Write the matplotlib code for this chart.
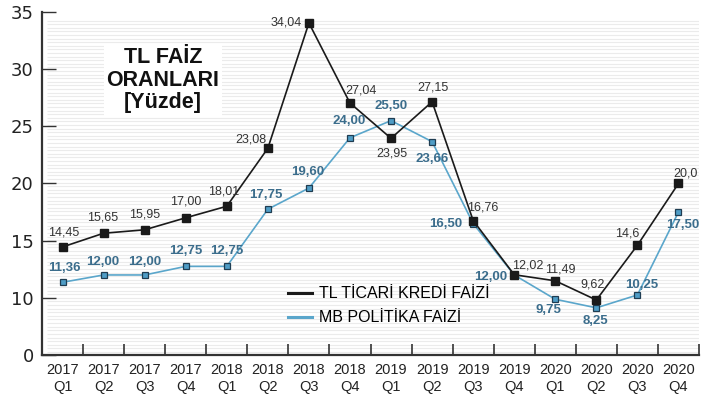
import numpy as np
import matplotlib
matplotlib.use("Agg")
import matplotlib.pyplot as plt
from matplotlib import font_manager as fm
from matplotlib.lines import Line2D

# ---------------- data ----------------
years = ["2017", "2017", "2017", "2017", "2018", "2018", "2018", "2018",
         "2019", "2019", "2019", "2019", "2020", "2020", "2020", "2020"]
quarters = ["Q1", "Q2", "Q3", "Q4", "Q1", "Q2", "Q3", "Q4",
            "Q1", "Q2", "Q3", "Q4", "Q1", "Q2", "Q3", "Q4"]
ticari = [14.45, 15.65, 15.95, 17.00, 18.01, 23.08, 34.04, 27.04,
          23.95, 27.15, 16.76, 12.02, 11.49, 9.62, 14.6, 20.0]
ticari_labels = ["14,45", "15,65", "15,95", "17,00", "18,01", "23,08", "34,04", "27,04",
                 "23,95", "27,15", "16,76", "12,02", "11,49", "9,62", "14,6", "20,0"]
politika = [11.36, 12.00, 12.00, 12.75, 12.75, 17.75, 19.60, 24.00,
            25.50, 23.66, 16.50, 12.00, 9.75, 8.25, 10.25, 17.50]
politika_labels = ["11,36", "12,00", "12,00", "12,75", "12,75", "17,75", "19,60", "24,00",
                   "25,50", "23,66", "16,50", "12,00", "9,75", "8,25", "10,25", "17,50"]
yticks = [0, 10, 15, 20, 25, 30, 35]

# label offsets (pixels) for each point
ticari_off = [(1, 14), (-1, 16), (0, 15), (0, 16), (-3, 15), (-17, 9), (-23, 0), (11, 13),
              (1, -15), (1, 14), (10, 13), (14, 9), (5, 11), (-4, 16), (-10, 12), (7, 10)]
politika_off = [(2, 14), (-1, 13), (0, 13), (0, 15), (0, 15), (-2, 14), (-1, 16), (-1, 17),
                (0, 15), (0, -17), (-27, 0), (-24, -2), (-7, -11), (-1, -13), (4, 10), (4, -13)]

# ---------------- fonts ----------------
names = {f.name for f in fm.fontManager.ttflist}
narrow = "Liberation Sans Narrow" if "Liberation Sans Narrow" in names else "Liberation Sans"
plt.rcParams["font.family"] = [narrow, "DejaVu Sans"]

BLACK = "#1a1a1a"
BLUE_LINE = "#5aa6cb"
BLUE_FACE = "#4f9dc6"
BLUE_EDGE = "#1f3d52"
BLUE_TEXT = "#3b6d8c"

fig = plt.figure(figsize=(7.18, 4.0), dpi=100)
ax = fig.add_axes([42 / 718, 45 / 400, (699 - 42) / 718, (355 - 12) / 400])

# broken y scale: 0-10 compressed to half
def fwd(y):
    y = np.asarray(y, dtype=float)
    return np.where(y >= 10, y - 5, y / 2)

def inv(p):
    p = np.asarray(p, dtype=float)
    return np.where(p >= 5, p + 5, p * 2)

ax.set_yscale("function", functions=(fwd, inv))

x = np.arange(len(ticari))

# striped background
stripe_y = np.arange(0.009, 0.983, 0.0105)
ax.hlines(stripe_y, 0.008, 1.0, transform=ax.transAxes, color="#ebebeb",
          linewidth=0.8, zorder=0)

ax.plot(x, ticari, color=BLACK, lw=1.2, marker="s", ms=5.5, mfc=BLACK, mec=BLACK, zorder=4)
ax.plot(x, politika, color=BLUE_LINE, lw=1.2, marker="s", ms=5.0, mfc=BLUE_FACE,
        mec=BLUE_EDGE, mew=0.9, zorder=3)

for xi, v, lab, (dx, dy) in zip(x, ticari, ticari_labels, ticari_off):
    ax.annotate(lab, (xi, v), xytext=(dx, dy), textcoords="offset pixels",
                ha="center", va="center", fontsize=9, color="#333333", zorder=6)
for xi, v, lab, (dx, dy) in zip(x, politika, politika_labels, politika_off):
    ax.annotate(lab, (xi, v), xytext=(dx, dy), textcoords="offset pixels",
                ha="center", va="center", fontsize=9.5, fontweight="bold",
                color=BLUE_TEXT, zorder=6)

ax.set_xlim(-0.5, 15.5)
ax.set_ylim(0, 35)

ax.set_yticks(yticks)
ax.set_yticklabels([str(t) for t in yticks], fontsize=13, color="#222222",
                   family=["DejaVu Sans"])
ax.yaxis.set_minor_locator(matplotlib.ticker.NullLocator())
ax.tick_params(axis="y", direction="in", length=10, width=1.0, color="#333333", pad=6)

ax.set_xticks(x)
ax.set_xticklabels([f"{a}\n{b}" for a, b in zip(years, quarters)], fontsize=10.5,
                   color="#222222", linespacing=1.25)
ax.set_xticks(np.arange(0.5, 16, 1.0), minor=True)
ax.tick_params(axis="x", which="major", length=0, pad=6)
ax.tick_params(axis="x", which="minor", direction="in", length=8, width=1.2, color="#333333")

for s in ["top", "right"]:
    ax.spines[s].set_visible(False)
for s in ["left", "bottom"]:
    ax.spines[s].set_color("#333333")
    ax.spines[s].set_linewidth(1.6)
ax.set_facecolor("white")

# title box
ax.text(163 / 718, 1 - 80 / 400, "TL FAİZ\nORANLARI\n[Yüzde]", transform=fig.transFigure,
        ha="center", va="center", fontsize=15.5, fontweight="bold", color="#111111",
        linespacing=1.12, family=["Liberation Sans", "DejaVu Sans"], zorder=7,
        bbox=dict(facecolor="white", edgecolor="none", pad=2))

handles = [Line2D([], [], color=BLACK, lw=2.2), Line2D([], [], color=BLUE_LINE, lw=2.2)]
leg = ax.legend(handles, ["TL TİCARİ KREDİ FAİZİ", "MB POLİTİKA FAİZİ"],
                loc="upper left", bbox_to_anchor=(240 / 657, 1 - (280 - 12) / 343),
                frameon=False, fontsize=11.5, handlelength=1.5, handletextpad=0.4,
                labelspacing=0.55, borderaxespad=0)

fig.savefig("out.png", dpi=100)
